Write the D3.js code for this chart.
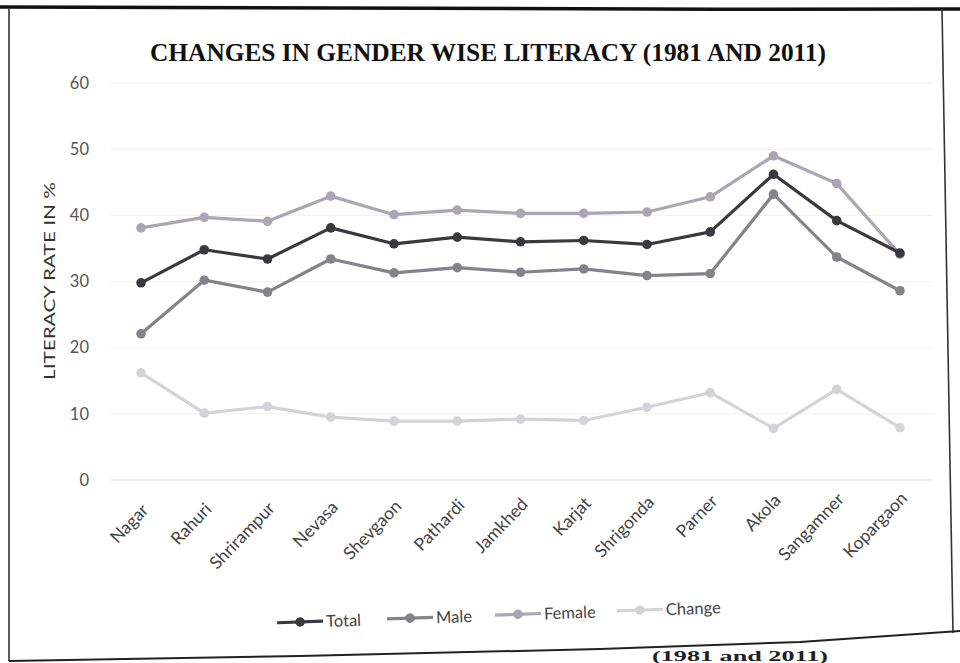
<!DOCTYPE html>
<html>
<head>
<meta charset="utf-8">
<script src="https://cdn.jsdelivr.net/npm/d3@7"></script>
<style>
  html, body { margin: 0; padding: 0; background: #ffffff; }
  svg { display: block; }
</style>
</head>
<body>
<svg id="chart" width="960" height="663"></svg>
<script>
// ---- data ----
const categories = ["Nagar", "Rahuri", "Shrirampur", "Nevasa", "Shevgaon", "Pathardi", "Jamkhed",
                    "Karjat", "Shrigonda", "Parner", "Akola", "Sangamner", "Kopargaon"];
const totalValues  = [29.8, 34.8, 33.4, 38.1, 35.7, 36.7, 36.0, 36.2, 35.6, 37.5, 46.2, 39.2, 34.3];
const maleValues   = [22.1, 30.2, 28.4, 33.4, 31.3, 32.1, 31.4, 31.9, 30.9, 31.2, 43.2, 33.7, 28.6];
const femaleValues = [38.1, 39.7, 39.1, 42.9, 40.1, 40.8, 40.3, 40.3, 40.5, 42.8, 49.0, 44.8, 34.1];
const changeValues = [16.2, 10.1, 11.1, 9.5, 8.9, 8.9, 9.2, 9.0, 11.0, 13.2, 7.8, 13.7, 7.9];
const yTicks = [0, 10, 20, 30, 40, 50, 60];
const seriesNames = ["Total", "Male", "Female", "Change"];

const series = [
  { name: seriesNames[0], values: totalValues,  color: "#3b383f" },
  { name: seriesNames[1], values: maleValues,   color: "#85828b" },
  { name: seriesNames[2], values: femaleValues, color: "#aba5b4" },
  { name: seriesNames[3], values: changeValues, color: "#d5d3d8" }
];

const svg = d3.select("#chart");
const sans = "Lato, 'Open Sans', 'DejaVu Sans', sans-serif";

// page frame (scanned figure border)
svg.append("path")
  .attr("d", "M0,7 Q480,10 960,9")
  .attr("fill", "none").attr("stroke", "#111").attr("stroke-width", 3.5);
svg.append("line").attr("x1", 9).attr("x2", 9).attr("y1", 9).attr("y2", 661)
  .attr("stroke", "#333").attr("stroke-width", 1.6);
svg.append("line").attr("x1", 942).attr("x2", 953).attr("y1", 9).attr("y2", 633)
  .attr("stroke", "#333").attr("stroke-width", 1.6);
svg.append("path")
  .attr("d", "M9,661 L300,656 L600,649 L800,642 L960,631")
  .attr("fill", "none").attr("stroke", "#222").attr("stroke-width", 2);

// scales
const x = d3.scalePoint().domain(categories).range([109.4, 931.6]).padding(0.5);
const y = d3.scaleLinear().domain([0, 60]).range([480, 83]);

// gridlines
svg.append("g").selectAll("line").data(yTicks).join("line")
  .attr("x1", 110).attr("x2", 932)
  .attr("y1", d => y(d)).attr("y2", d => y(d))
  .attr("stroke", d => d === 0 ? "#e0e0e0" : "#f1f1f1").attr("stroke-width", 1);

// y axis
const yAxis = d3.axisLeft(y).tickValues(yTicks).tickSize(0).tickPadding(0);
const yg = svg.append("g").attr("transform", "translate(89,0)").call(yAxis);
yg.select(".domain").remove();
yg.selectAll("text").attr("font-family", sans).attr("font-size", 16.5).attr("fill", "#555");

// x axis labels
const xAxis = d3.axisBottom(x).tickSize(0).tickPadding(0);
const xg = svg.append("g").attr("transform", "translate(0,0)").call(xAxis);
xg.select(".domain").remove();
xg.selectAll(".tick").attr("transform", null);
xg.selectAll(".tick text")
  .attr("font-family", sans).attr("font-size", 17.5).attr("fill", "#444")
  .attr("text-anchor", "end").attr("y", 0).attr("dy", "0.35em")
  .attr("transform", (d, i) => `translate(${x(d) + 4},${507 - i * 1.0}) rotate(-46)`);

// y axis title
svg.append("text")
  .attr("transform", "translate(55,281) rotate(-90)")
  .attr("text-anchor", "middle")
  .attr("font-family", sans).attr("font-size", 16).attr("fill", "#333")
  .attr("textLength", 198).attr("lengthAdjust", "spacingAndGlyphs")
  .text("LITERACY RATE IN %");

// title
svg.append("text")
  .attr("x", 488).attr("y", 61)
  .attr("text-anchor", "middle")
  .attr("font-family", "'Liberation Serif', 'Times New Roman', serif")
  .attr("font-weight", "bold").attr("font-size", 26).attr("fill", "#111")
  .attr("textLength", 676).attr("lengthAdjust", "spacingAndGlyphs")
  .text("CHANGES IN GENDER WISE LITERACY (1981 AND 2011)");

// lines (draw lightest first)
const line = d3.line().x((d, i) => x(categories[i])).y(d => y(d));
const order = [3, 2, 1, 0];
order.forEach(k => {
  const s = series[k];
  const g = svg.append("g");
  g.append("path").datum(s.values)
    .attr("d", line).attr("fill", "none")
    .attr("stroke", s.color).attr("stroke-width", 3.2)
    .attr("stroke-linejoin", "round");
  g.selectAll("circle").data(s.values).join("circle")
    .attr("cx", (d, i) => x(categories[i])).attr("cy", d => y(d))
    .attr("r", 4.8).attr("fill", s.color);
});

// legend (slightly tilted like the scan)
const legendX = [277, 387, 495, 617];
const leg = svg.append("g").attr("transform", "rotate(-2, 470, 616)");
series.forEach((s, i) => {
  const lx = legendX[i];
  leg.append("line").attr("x1", lx).attr("x2", lx + 46)
    .attr("y1", 616).attr("y2", 616)
    .attr("stroke", s.color).attr("stroke-width", 3.2);
  leg.append("circle").attr("cx", lx + 23).attr("cy", 616).attr("r", 4.8).attr("fill", s.color);
  leg.append("text").attr("x", lx + 49).attr("y", 622)
    .attr("font-family", sans).attr("font-size", 16.5).attr("fill", "#444")
    .text(s.name);
});

// caption fragment below the figure
svg.append("text")
  .attr("x", 652).attr("y", 661)
  .attr("font-family", "'Liberation Serif', serif")
  .attr("font-weight", "bold").attr("font-size", 15).attr("fill", "#222")
  .attr("textLength", 176).attr("lengthAdjust", "spacingAndGlyphs")
  .text("(1981 and 2011)");
</script>
</body>
</html>
